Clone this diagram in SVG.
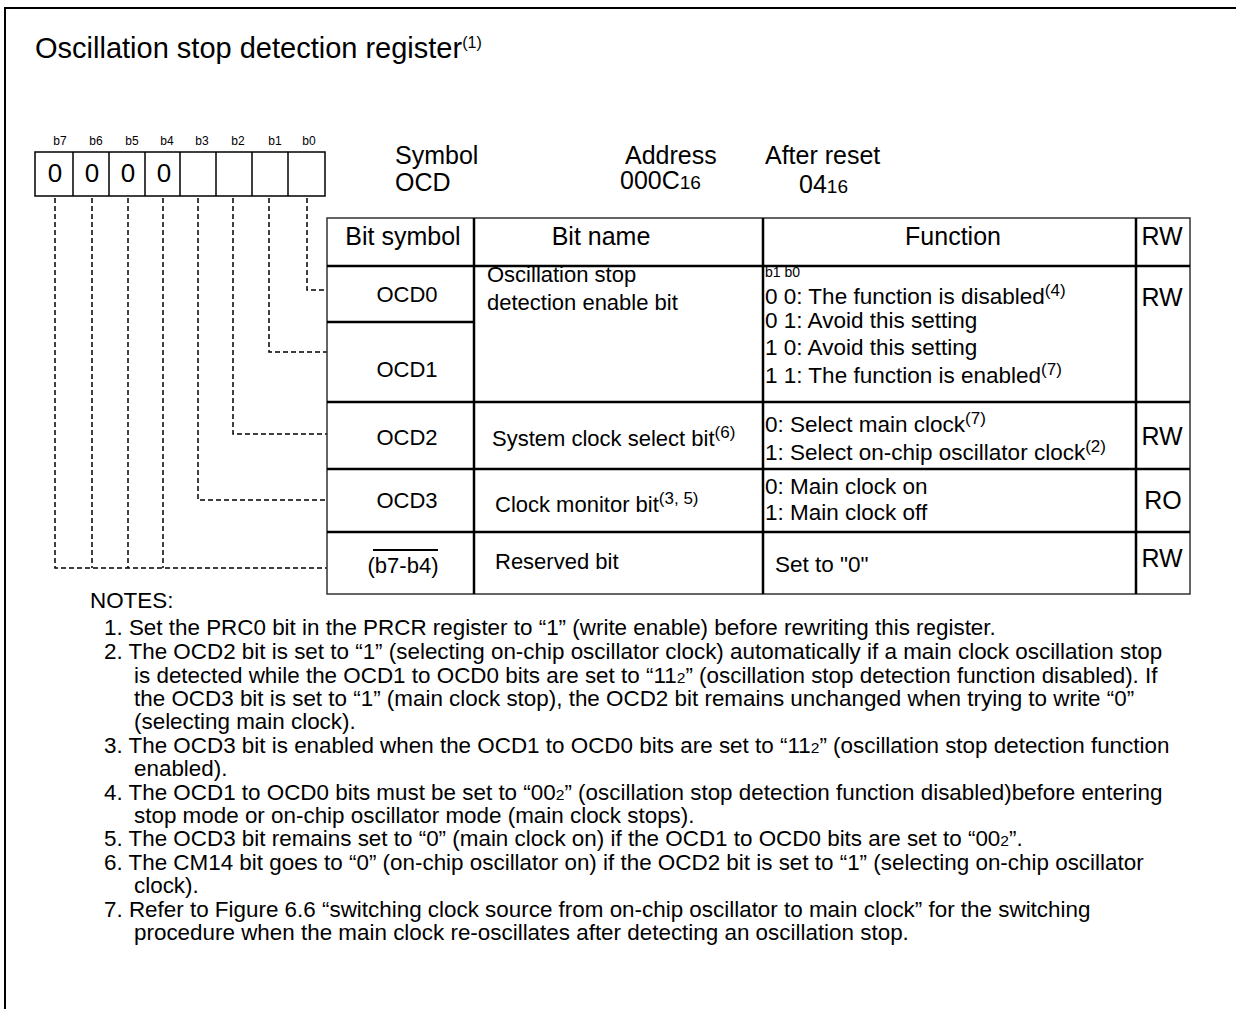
<svg xmlns="http://www.w3.org/2000/svg" width="1236" height="1009" viewBox="0 0 1236 1009">
<style>
text{font-family:"Liberation Sans",Arial,sans-serif;fill:#000}
.t22{font-size:22px}
.f{font-size:22.5px}
.h24{font-size:25px}
.c{text-anchor:middle}
.sup{font-size:17px}
.sm{font-size:19px}
.bl{font-size:12px;text-anchor:middle}
.dig{font-size:26px;text-anchor:middle}
.grid{stroke:#000;stroke-width:2.5;fill:none}
.outer{stroke:#333;stroke-width:1.5;fill:none}
.dash{stroke:#000;stroke-width:1.5;fill:none;stroke-dasharray:5 3}
.cell{fill:none;stroke:#000;stroke-width:1.5}
.note{font-size:21.5px}
.n2{font-size:15px}
</style>
<rect width="1236" height="1009" fill="#fff"/>
<path d="M5,1009 V8 H1236" stroke="#000" stroke-width="2" fill="none"/>
<g id="title">
<text x="35" y="58" style="font-size:29px">Oscillation stop detection register<tspan style="font-size:16px" dy="-10">(1)</tspan></text>
</g>
<g id="register-bits">
<text class="bl" x="60" y="145">b7</text>
<text class="bl" x="96" y="145">b6</text>
<text class="bl" x="132" y="145">b5</text>
<text class="bl" x="167" y="145">b4</text>
<text class="bl" x="202" y="145">b3</text>
<text class="bl" x="238" y="145">b2</text>
<text class="bl" x="275" y="145">b1</text>
<text class="bl" x="309" y="145">b0</text>
<rect class="cell" x="35" y="152" width="290" height="44"/>
<path class="cell" d="M73,152V196M109,152V196M145,152V196M180,152V196M216,152V196M252,152V196M288,152V196"/>
<text class="dig" x="55" y="182">0</text>
<text class="dig" x="92" y="182">0</text>
<text class="dig" x="128" y="182">0</text>
<text class="dig" x="164" y="182">0</text>
</g>
<g id="register-info" style="font-size:25px">
<text x="395" y="164">Symbol</text>
<text x="395" y="191">OCD</text>
<text x="625" y="164">Address</text>
<text x="620" y="189">000C<tspan class="sm">16</tspan></text>
<text x="765" y="164">After reset</text>
<text x="799" y="193">04<tspan class="sm">16</tspan></text>
</g>
<g id="connectors">
<path class="dash" d="M307,198V290H327"/>
<path class="dash" d="M269,198V352H327"/>
<path class="dash" d="M233,198V434H327"/>
<path class="dash" d="M198,198V500H327"/>
<path class="dash" d="M55,198V568H327"/>
<path class="dash" d="M92,198V568"/>
<path class="dash" d="M128,198V568"/>
<path class="dash" d="M163,198V568"/>
</g>
<g id="table-grid">
<rect class="outer" x="327" y="218" width="863" height="376"/>
<path class="grid" d="M327,266H1190M327,322H474M327,402H1190M327,469H1190M327,532H1190M474,218V594M763,218V594M1136,218V594"/>
</g>
<g id="header" class="h24">
<text class="c" x="403" y="245">Bit symbol</text>
<text class="c" x="601" y="245">Bit name</text>
<text class="c" x="953" y="245">Function</text>
<text class="c" x="1162" y="245">RW</text>
</g>
<g id="row-ocd01" class="t22">
<text class="c" x="407" y="302">OCD0</text>
<text class="c" x="407" y="377">OCD1</text>
<text x="487" y="282">Oscillation stop</text>
<text x="487" y="310">detection enable bit</text>
<text x="765" y="277" style="font-size:14px">b1 b0</text>
<text class="f" x="765" y="304">0 0: The function is disabled<tspan class="sup" dy="-8">(4)</tspan></text>
<text class="f" x="765" y="328">0 1: Avoid this setting</text>
<text class="f" x="765" y="355">1 0: Avoid this setting</text>
<text class="f" x="765" y="383">1 1: The function is enabled<tspan class="sup" dy="-8">(7)</tspan></text>
<text class="c" x="1162" y="306" style="font-size:25px">RW</text>
</g>
<g id="row-ocd2" class="t22">
<text class="c" x="407" y="445">OCD2</text>
<text x="492" y="446">System clock select bit<tspan class="sup" dy="-8">(6)</tspan></text>
<text class="f" x="765" y="432">0: Select main clock<tspan class="sup" dy="-8">(7)</tspan></text>
<text class="f" x="765" y="460">1: Select on-chip oscillator clock<tspan class="sup" dy="-8">(2)</tspan></text>
<text class="c" x="1162" y="445" style="font-size:25px">RW</text>
</g>
<g id="row-ocd3" class="t22">
<text class="c" x="407" y="508">OCD3</text>
<text x="495" y="512">Clock monitor bit<tspan class="sup" dy="-8">(3, 5)</tspan></text>
<text class="f" x="765" y="494">0: Main clock on</text>
<text class="f" x="765" y="520">1: Main clock off</text>
<text class="c" x="1163" y="509" style="font-size:25px">RO</text>
</g>
<g id="row-reserved" class="t22">
<line x1="373" y1="550" x2="438" y2="550" stroke="#000" stroke-width="2"/>
<text class="c" x="403" y="573">(b7-b4)</text>
<text x="495" y="569">Reserved bit</text>
<text class="f" x="775" y="572">Set to "0"</text>
<text class="c" x="1162" y="567" style="font-size:25px">RW</text>
</g>
<g id="notes" class="note" transform="scale(1.043,1)">
<text x="86.3" y="608">NOTES:</text>
<text x="99.7" y="635">1. Set the PRC0 bit in the PRCR register to “1” (write enable) before rewriting this register.</text>
<text x="99.7" y="659">2. The OCD2 bit is set to “1” (selecting on-chip oscillator clock) automatically if a main clock oscillation stop</text>
<text x="128.5" y="683">is detected while the OCD1 to OCD0 bits are set to “11<tspan class="n2">2</tspan>” (oscillation stop detection function disabled). If</text>
<text x="128.5" y="706">the OCD3 bit is set to “1” (main clock stop), the OCD2 bit remains unchanged when trying to write “0”</text>
<text x="128.5" y="729">(selecting main clock).</text>
<text x="99.7" y="753">3. The OCD3 bit is enabled when the OCD1 to OCD0 bits are set to “11<tspan class="n2">2</tspan>” (oscillation stop detection function</text>
<text x="128.5" y="776">enabled).</text>
<text x="99.7" y="800">4. The OCD1 to OCD0 bits must be set to “00<tspan class="n2">2</tspan>” (oscillation stop detection function disabled)before entering</text>
<text x="128.5" y="823">stop mode or on-chip oscillator mode (main clock stops).</text>
<text x="99.7" y="846">5. The OCD3 bit remains set to “0” (main clock on) if the OCD1 to OCD0 bits are set to “00<tspan class="n2">2</tspan>”.</text>
<text x="99.7" y="870">6. The CM14 bit goes to “0” (on-chip oscillator on) if the OCD2 bit is set to “1” (selecting on-chip oscillator</text>
<text x="128.5" y="893">clock).</text>
<text x="99.7" y="917">7. Refer to Figure 6.6 “switching clock source from on-chip oscillator to main clock” for the switching</text>
<text x="128.5" y="940">procedure when the main clock re-oscillates after detecting an oscillation stop.</text>
</g>
</svg>
